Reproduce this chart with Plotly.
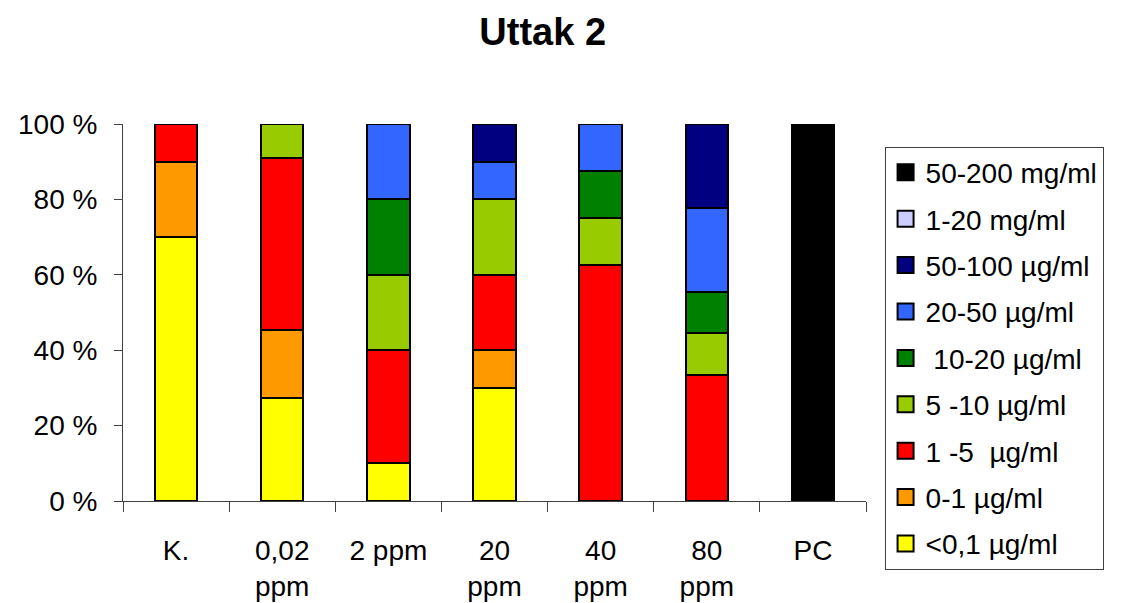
import plotly.graph_objects as go

categories = ["K.", "0,02<br>ppm", "2 ppm", "20<br>ppm", "40<br>ppm", "80<br>ppm", "PC"]

series_names = ["<0,1 µg/ml", "0-1 µg/ml", "1 -5  µg/ml", "5 -10 µg/ml", " 10-20 µg/ml",
                "20-50 µg/ml", "50-100 µg/ml", "1-20 mg/ml", "50-200 mg/ml"]
series_colors = ["#FFFF00", "#FF9900", "#FF0000", "#99CC00", "#008000",
                 "#3366FF", "#000080", "#CCCCFF", "#000000"]

lt01 = [70, 27.27, 10, 30, 0, 0, 0]
r0_1 = [20, 18.18, 0, 10, 0, 0, 0]
r1_5 = [10, 45.45, 30, 20, 62.5, 33.33, 0]
r5_10 = [0, 9.09, 20, 20, 12.5, 11.11, 0]
r10_20 = [0, 0, 20, 0, 12.5, 11.11, 0]
r20_50 = [0, 0, 20, 10, 12.5, 22.22, 0]
r50_100 = [0, 0, 0, 10, 0, 22.22, 0]
r1_20mg = [0, 0, 0, 0, 0, 0, 0]
r50_200mg = [0, 0, 0, 0, 0, 0, 100]

series_values = [lt01, r0_1, r1_5, r5_10, r10_20, r20_50, r50_100, r1_20mg, r50_200mg]

y_tickvals = [0, 20, 40, 60, 80, 100]
y_ticktext = ["0 %", "20 %", "40 %", "60 %", "80 %", "100 %"]

FONT = "Liberation Sans, Arial, sans-serif"

fig = go.Figure()
for name, color, vals in zip(series_names, series_colors, series_values):
    fig.add_trace(go.Bar(
        x=categories, y=vals, name=name, showlegend=False,
        marker=dict(color=color, line=dict(color="black", width=2)),
        width=0.4,
    ))
# legend entries (larger square symbols), top entry = last series
n = len(series_names)
for i in range(n):
    fig.add_trace(go.Scatter(
        x=[None], y=[None], mode="markers", name=series_names[i],
        legendgroup=f"g{i}", legendrank=1000 - i,
        marker=dict(symbol="square", size=20, color=series_colors[i],
                    line=dict(color="black", width=2)),
    ))

fig.update_layout(
    barmode="stack",
    width=1126, height=603,
    margin=dict(l=123, r=260, t=124, b=102, autoexpand=False),
    paper_bgcolor="white", plot_bgcolor="white",
    font=dict(family=FONT, size=28, color="black"),
    title=dict(text="<b>Uttak 2</b>", x=0.482, xanchor="center", y=0.948, yanchor="middle",
               font=dict(family=FONT, size=38, color="black")),
    legend=dict(
        x=1.025, xanchor="left", y=0.94, yanchor="top",
        traceorder="grouped", tracegroupgap=7, maxheight=600,
        bordercolor="#404040", borderwidth=1, bgcolor="white",
        font=dict(family=FONT, size=28, color="black"),
        itemwidth=30,
    ),
    showlegend=True,
)
fig.update_yaxes(
    range=[0, 100], tickvals=y_tickvals, ticktext=y_ticktext, automargin=False,
    showgrid=False, zeroline=False, showline=True, linecolor="#404040", linewidth=1,
    ticks="outside", ticklen=8, tickcolor="#404040", ticklabelstandoff=11,
)
fig.update_xaxes(
    showgrid=False, showline=True, linecolor="#404040", linewidth=1, automargin=False,
    ticks="outside", ticklen=10, tickcolor="#404040", tickson="boundaries",
    ticklabelstandoff=24, range=[-0.5, 6.5],
)

fig.write_html("out.html")
